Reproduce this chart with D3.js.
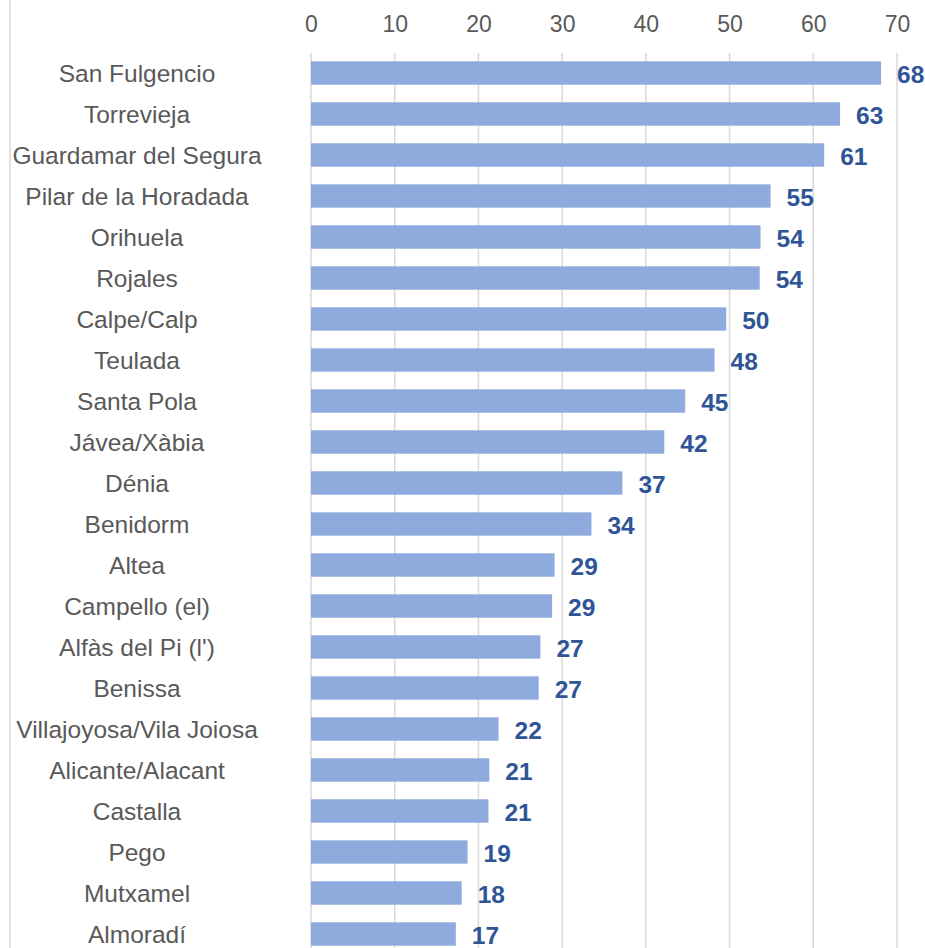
<!DOCTYPE html>
<html>
<head>
<meta charset="utf-8">
<script src="https://cdn.jsdelivr.net/npm/d3@7"></script>
<style>
  body { margin: 0; background: #fff; }
  svg { display: block; font-family: "Liberation Sans", Arial, sans-serif; }
</style>
</head>
<body>
<svg width="925" height="948"></svg>
<script>
var municipios = [
  "San Fulgencio", "Torrevieja", "Guardamar del Segura", "Pilar de la Horadada",
  "Orihuela", "Rojales", "Calpe/Calp", "Teulada", "Santa Pola", "Jávea/Xàbia",
  "Dénia", "Benidorm", "Altea", "Campello (el)", "Alfàs del Pi (l')", "Benissa",
  "Villajoyosa/Vila Joiosa", "Alicante/Alacant", "Castalla", "Pego", "Mutxamel",
  "Almoradí"
];

var valores = [
  68.1, 63.2, 61.3, 54.9, 53.7, 53.6, 49.6, 48.2, 44.7, 42.2, 37.2,
  33.5, 29.1, 28.8, 27.4, 27.2, 22.4, 21.3, 21.2, 18.7, 18.0, 17.3
];

var ticks = [0, 10, 20, 30, 40, 50, 60, 70];

var svg = d3.select("svg"),
    width = +svg.attr("width"),
    height = +svg.attr("height");

var data = municipios.map(function(m, i) { return {name: m, value: valores[i]}; });

var x = d3.scaleLinear()
    .domain([0, 70])
    .range([311, 897]);

var y = d3.scaleBand()
    .domain(municipios)
    .range([52.5, 954.5])
    .paddingInner(0.43)
    .paddingOuter(0.215);

// chart border (only the left edge shows)
svg.append("line")
    .attr("x1", 10).attr("x2", 10)
    .attr("y1", 0).attr("y2", height)
    .attr("stroke", "#d9d9d9")
    .attr("stroke-width", 1.5);

// top axis + gridlines
var axis = svg.append("g")
    .attr("transform", "translate(0,53)")
    .call(d3.axisTop(x).tickValues(ticks).tickSize(0).tickPadding(21));

axis.select(".domain").remove();
axis.selectAll("text")
    .attr("fill", "#595959")
    .style("font-size", "23px");

svg.append("g")
  .selectAll("line")
  .data(ticks)
  .join("line")
    .attr("x1", function(d) { return x(d); })
    .attr("x2", function(d) { return x(d); })
    .attr("y1", 53)
    .attr("y2", height)
    .attr("stroke", "#d9d9d9")
    .attr("stroke-width", 1.5);

// bars
svg.append("g")
  .selectAll("rect")
  .data(data)
  .join("rect")
    .attr("x", x(0))
    .attr("y", function(d) { return y(d.name); })
    .attr("width", function(d) { return x(d.value) - x(0); })
    .attr("height", y.bandwidth())
    .attr("fill", "#8faadc");

// category labels
svg.append("g")
  .selectAll("text")
  .data(data)
  .join("text")
    .attr("x", 137)
    .attr("y", function(d) { return y(d.name) + y.bandwidth() / 2; })
    .attr("dy", "0.36em")
    .attr("text-anchor", "middle")
    .attr("fill", "#595959")
    .style("font-size", "24.5px")
    .text(function(d) { return d.name; });

// value labels
svg.append("g")
  .selectAll("text")
  .data(data)
  .join("text")
    .attr("x", function(d) { return x(d.value) + 16; })
    .attr("y", function(d) { return y(d.name) + y.bandwidth() / 2; })
    .attr("dy", "0.41em")
    .attr("fill", "#2f5597")
    .style("font-size", "24.5px")
    .style("font-weight", "bold")
    .text(function(d) { return Math.round(d.value); });
</script>
</body>
</html>
